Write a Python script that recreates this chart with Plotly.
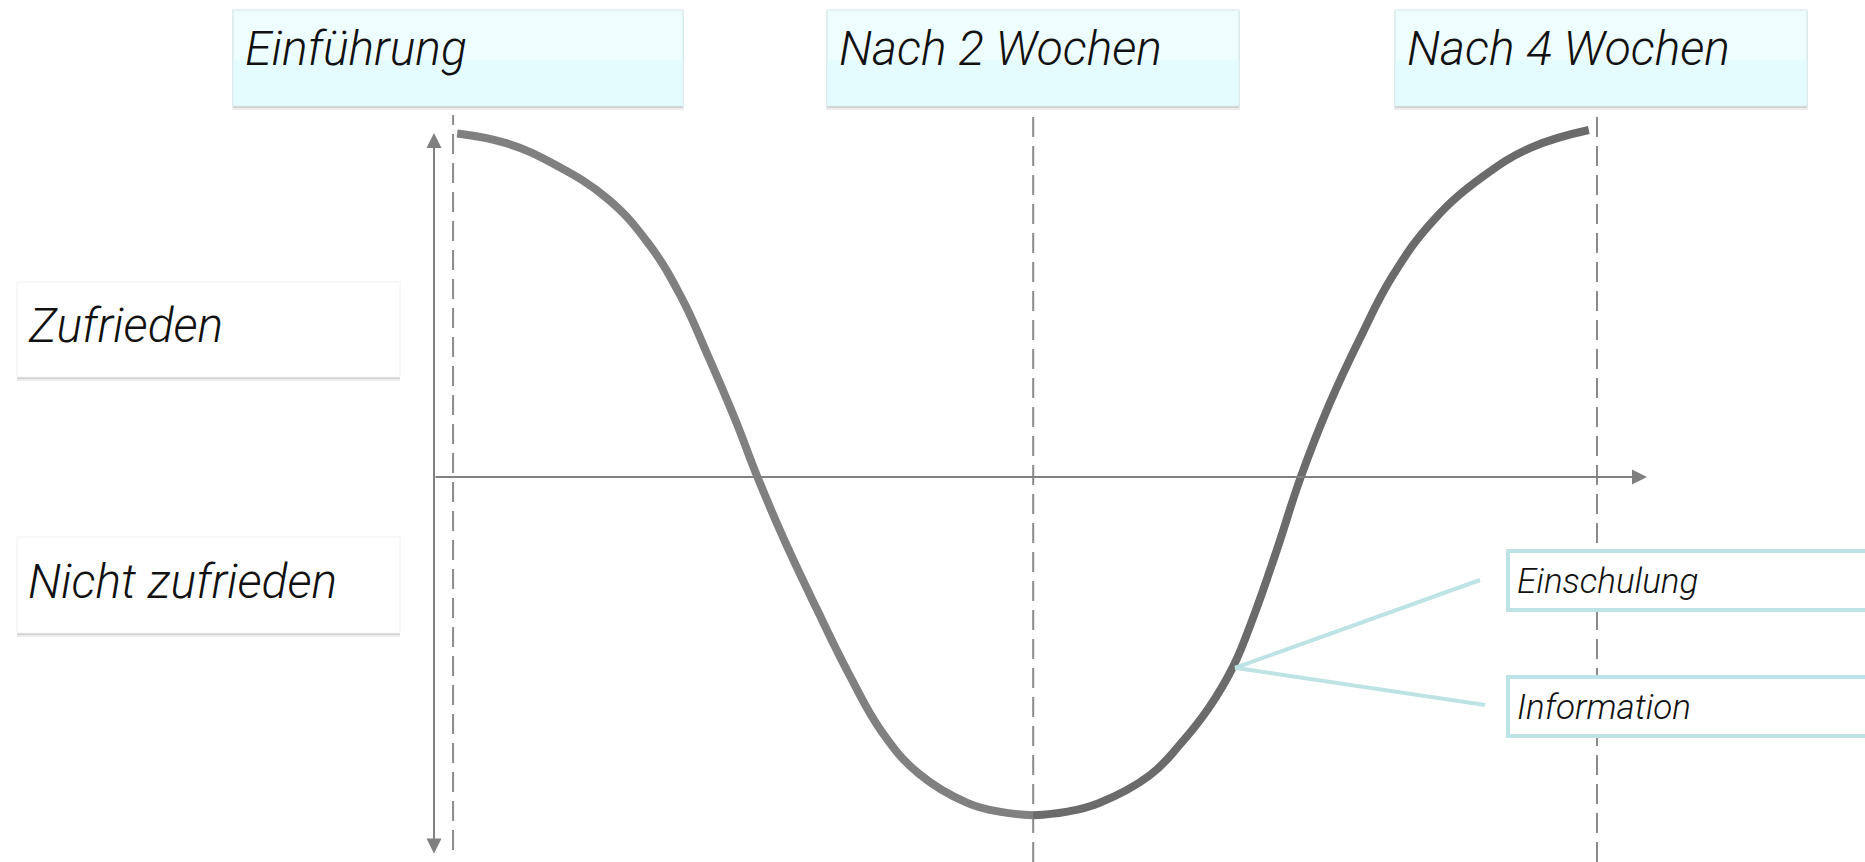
import plotly.graph_objects as go

W, H = 1865, 862

# satisfaction over the first four weeks (days after introduction, score +1 .. -1)
fall_days = [0.1, 1.3, 2.5, 3.8, 4.8, 5.6, 6.2, 6.9, 7.45, 8.1, 8.9, 9.7, 10.5, 11.4, 12.6, 13.4, 14.2]
fall_score = [0.99, 0.962, 0.9, 0.8, 0.67, 0.515, 0.36, 0.167, 0.0, -0.18, -0.38, -0.57, -0.735,
              -0.855, -0.94, -0.965, -0.975]
rise_days = [14.2, 15.0, 15.8, 17.05, 17.8, 18.5, 19.1, 19.6, 20.15, 20.75, 21.45, 22.2, 23.0, 24.0,
             25.2, 26.4, 27.8]
rise_score = [-0.975, -0.965, -0.94, -0.86, -0.77, -0.665, -0.545, -0.40, -0.215, 0.0, 0.21, 0.40,
              0.58, 0.74, 0.865, 0.95, 1.0]

milestone_days = [0, 14.2, 28]
milestone_labels = ["Einführung", "Nach 2 Wochen", "Nach 4 Wochen"]
level_labels = ["Zufrieden", "Nicht zufrieden"]
measure_labels = ["Einschulung", "Information"]
measure_day, measure_score = 19.14, -0.55

X_RANGE = [-11.09, 34.56]
Y_RANGE = [-1.1095, 1.3746]


def dx(p):
    return X_RANGE[0] + p / W * (X_RANGE[1] - X_RANGE[0])


def dy(p):
    return Y_RANGE[1] - p / H * (Y_RANGE[1] - Y_RANGE[0])


def px(p):
    return p / W


def py(p):
    return 1 - p / H


font_big = dict(family="Roboto, Liberation Sans", size=48, color="#111111", weight=300, style="italic")
font_small = dict(family="Roboto, Liberation Sans", size=35, color="#111111", weight=300, style="italic")

fig = go.Figure()
fig.add_trace(go.Scatter(x=fall_days, y=fall_score, mode="lines",
                         line=dict(color="#808080", width=8, shape="spline", smoothing=1.2),
                         hoverinfo="skip"))
fig.add_trace(go.Scatter(x=rise_days, y=rise_score, mode="lines",
                         line=dict(color="#6b6b6b", width=8, shape="spline", smoothing=1.2),
                         hoverinfo="skip"))

shapes = []
annotations = []

# dashed milestone lines
for i, d in enumerate(milestone_days):
    shapes.append(dict(type="line", xref="x", yref="paper", x0=d, x1=d,
                       y0=py(850) if i == 0 else 0, y1=py(115),
                       line=dict(color="#8a8a8a", width=2, dash="20px,9px"), layer="below"))

# axes arrows
annotations.append(dict(x=dx(434), y=dy(133), ax=dx(434), ay=dy(855), xref="x", yref="y",
                        axref="x", ayref="y", text="", showarrow=True, arrowhead=2, arrowsize=1.5,
                        arrowwidth=2, arrowside="end+start", startarrowhead=2, startarrowsize=1.5,
                        arrowcolor="#808080"))
annotations.append(dict(x=dx(1647), y=0, ax=dx(434), ay=0, xref="x", yref="y",
                        axref="x", ayref="y", text="", showarrow=True, arrowhead=2, arrowsize=1.5,
                        arrowwidth=2, arrowcolor="#808080"))

# milestone boxes on top
top_boxes = [(233, 683), (827, 1239), (1395, 1807)]
for (x0, x1), label in zip(top_boxes, milestone_labels):
    shapes.append(dict(type="rect", xref="paper", yref="paper", x0=px(x0 - 1), x1=px(x1 + 1),
                       y0=py(110), y1=py(12), fillcolor="rgba(0,0,0,0.07)", line_width=0))
    shapes.append(dict(type="rect", xref="paper", yref="paper", x0=px(x0), x1=px(x1),
                       y0=py(108), y1=py(11), fillcolor="rgba(0,0,0,0.12)", line_width=0))
    shapes.append(dict(type="rect", xref="paper", yref="paper", x0=px(x0), x1=px(x1),
                       y0=py(106), y1=py(10), fillcolor="#eefdfe",
                       line=dict(color="#cfe6e8", width=1)))
    shapes.append(dict(type="rect", xref="paper", yref="paper", x0=px(x0 + 0.5), x1=px(x1 - 0.5),
                       y0=py(105.5), y1=py(60), fillcolor="#e4fcfe", line_width=0))
    annotations.append(dict(x=px(x0 + 10), y=py(49), xref="paper", yref="paper", text=label,
                            showarrow=False, xanchor="left", yanchor="middle", font=font_big))

# satisfaction level boxes on the left
left_boxes = [(282, 377), (537, 633)]
for (y0, y1), label in zip(left_boxes, level_labels):
    shapes.append(dict(type="rect", xref="paper", yref="paper", x0=px(17), x1=px(400),
                       y0=py(y1 + 4), y1=py(y0 + 2), fillcolor="rgba(0,0,0,0.07)", line_width=0))
    shapes.append(dict(type="rect", xref="paper", yref="paper", x0=px(17), x1=px(400),
                       y0=py(y1 + 2), y1=py(y0 + 1), fillcolor="rgba(0,0,0,0.12)", line_width=0))
    shapes.append(dict(type="rect", xref="paper", yref="paper", x0=px(17), x1=px(400),
                       y0=py(y1), y1=py(y0), fillcolor="#ffffff",
                       line=dict(color="#f0f0f0", width=1)))
    annotations.append(dict(x=px(26), y=py((y0 + y1) / 2 - 4), xref="paper", yref="paper", text=label,
                            showarrow=False, xanchor="left", yanchor="middle", font=font_big))

# measures on the right with connectors to the curve
right_boxes = [(551, 610, 1480, 580), (677, 736, 1485, 705)]
for (y0, y1, ex, ey), label in zip(right_boxes, measure_labels):
    shapes.append(dict(type="line", xref="x", yref="y", x0=measure_day, y0=measure_score,
                       x1=dx(ex), y1=dy(ey), line=dict(color="#bde3e5", width=4)))
    shapes.append(dict(type="rect", xref="paper", yref="paper", x0=px(1508), x1=px(1885),
                       y0=py(y1), y1=py(y0), fillcolor="#ffffff",
                       line=dict(color="#bde3e5", width=4)))
    annotations.append(dict(x=px(1515), y=py((y0 + y1) / 2 + 1), xref="paper", yref="paper", text=label,
                            showarrow=False, xanchor="left", yanchor="middle", font=font_small))

fig.update_layout(
    width=W, height=H,
    margin=dict(l=0, r=0, t=0, b=0),
    paper_bgcolor="white", plot_bgcolor="white",
    showlegend=False,
    xaxis=dict(range=X_RANGE, visible=False, fixedrange=True),
    yaxis=dict(range=Y_RANGE, visible=False, fixedrange=True),
    shapes=shapes,
    annotations=annotations,
)

fig.write_html("out.html", config={"displayModeBar": False},
               post_script="document.body.style.margin='0';")
